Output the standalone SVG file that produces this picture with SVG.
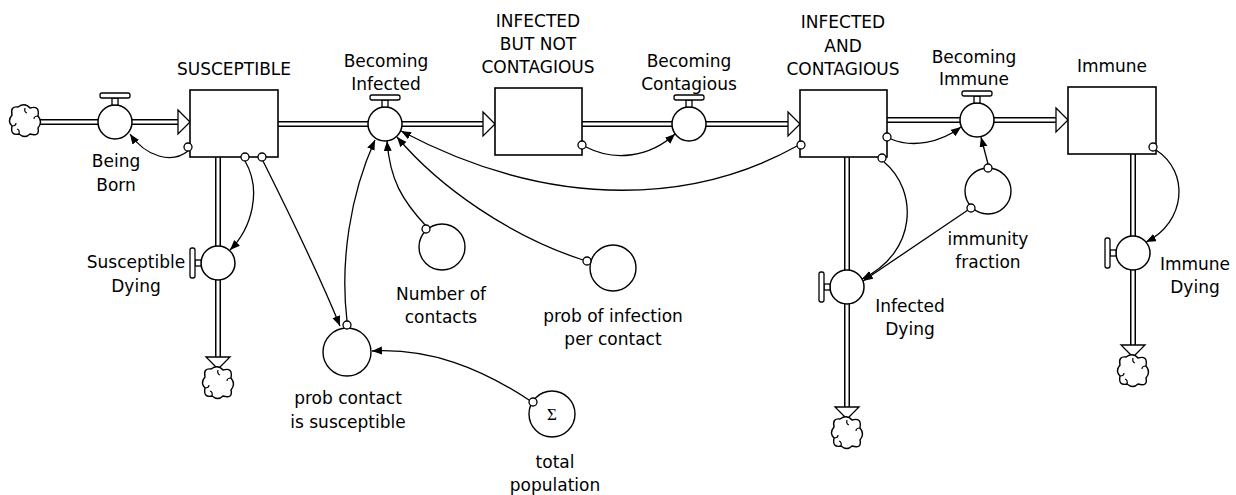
<svg xmlns="http://www.w3.org/2000/svg" width="1236" height="495" viewBox="0 0 1236 495">
<style>
  .po{fill:none;stroke:#000;stroke-width:6}
  .pi{fill:none;stroke:#fff;stroke-width:3}
  .tri{fill:#fff;stroke:#000;stroke-width:1.3}
  .box{fill:#fff;stroke:#000;stroke-width:1.6}
  .valve{fill:#fff;stroke:#000;stroke-width:1.5}
  .aux{fill:#fff;stroke:#000;stroke-width:1.4}
  .hdl{fill:#fff;stroke:#000;stroke-width:1.3}
  .cloud{fill:#fff;stroke:#000;stroke-width:1.4}
  .link{fill:none;stroke:#000;stroke-width:1.3;marker-end:url(#ah)}
  .dot{fill:#fff;stroke:#000;stroke-width:1.3}
  text{font-family:"DejaVu Sans","Liberation Sans",sans-serif;font-size:17px;text-anchor:middle;fill:#000}
</style>
<defs>
  <marker id="ah" markerUnits="userSpaceOnUse" markerWidth="11" markerHeight="9" refX="10" refY="4" orient="auto">
    <path d="M0,0 L10,4 L0,8 z" fill="#000"/>
  </marker>
  <g id="cl">
    <path class="cloud" d="M-7,-14 Q0,-19 5,-13 Q15,-16 13,-5 Q18,1 13,7 Q15,16 5,13 Q0,18 -6,13 Q-15,15 -13,5 Q-18,0 -13,-6 Q-15,-15 -7,-14 Z"/>
    <path d="M0,-13 q-1,4 2,5 M13,-5 q-4,0 -4,3 M-13,5 q4,0 4,-3 M-6,13 q1,-4 -2,-5" stroke="#000" stroke-width="1.2" fill="none"/>
  </g>
  <g id="vh">
    <circle class="valve" r="17"/>
    <rect class="hdl" x="-3" y="-24" width="6" height="7"/>
    <rect class="hdl" x="-15" y="-29" width="30" height="5" rx="2"/>
  </g>
  <g id="vv">
    <circle class="valve" r="17"/>
    <rect class="hdl" x="-23" y="-3" width="6" height="6"/>
    <rect class="hdl" x="-28" y="-15" width="5" height="30" rx="2"/>
  </g>
</defs>

<g id="pipes">
  <path class="po" d="M40,122 H98 M132,122 H180 M278,124 H368 M402,124 H485 M582,124 H672 M706,124 H790 M887,120 H960 M994,120 H1058 M218,157 V246 M218,280 V358 M847,157 V270 M847,304 V408 M1133,154 V236 M1133,270 V346"/>
  <path class="pi" d="M40,122 H98 M132,122 H180 M278,124 H368 M402,124 H485 M582,124 H672 M706,124 H790 M887,120 H960 M994,120 H1058 M218,157 V246 M218,280 V358 M847,157 V270 M847,304 V408 M1133,154 V236 M1133,270 V346"/>
  <polygon class="tri" points="178,110 190,122 178,134"/>
  <polygon class="tri" points="483,112 495,124 483,136"/>
  <polygon class="tri" points="788,112 800,124 788,136"/>
  <polygon class="tri" points="1056,108 1068,120 1056,132"/>
  <polygon class="tri" points="206,357 230,357 218,369"/>
  <polygon class="tri" points="835,407 859,407 847,419"/>
  <polygon class="tri" points="1121,345 1145,345 1133,357"/>
</g>

<g id="cloud-source"><use href="#cl" x="25" y="121"/></g>
<g id="cloud-susceptible-sink"><use href="#cl" x="218" y="383"/></g>
<g id="cloud-infected-sink"><use href="#cl" x="847" y="433"/></g>
<g id="cloud-immune-sink"><use href="#cl" x="1133" y="371"/></g>

<g id="susceptible">
  <rect class="box" x="190" y="90" width="88" height="67"/>
  <text x="234" y="75">SUSCEPTIBLE</text>
</g>
<g id="infected-not-contagious">
  <rect class="box" x="495" y="88" width="87" height="67"/>
  <text x="538" y="27">INFECTED</text>
  <text x="538" y="50">BUT NOT</text>
  <text x="538" y="73">CONTAGIOUS</text>
</g>
<g id="infected-contagious">
  <rect class="box" x="800" y="90" width="87" height="67"/>
  <text x="843" y="28">INFECTED</text>
  <text x="843" y="52">AND</text>
  <text x="843" y="75">CONTAGIOUS</text>
</g>
<g id="immune">
  <rect class="box" x="1068" y="87" width="88" height="67"/>
  <text x="1112" y="72">Immune</text>
</g>

<g id="being-born">
  <use href="#vh" x="115" y="122"/>
  <text x="116" y="167">Being</text>
  <text x="116" y="191">Born</text>
</g>
<g id="becoming-infected">
  <use href="#vh" x="385" y="124"/>
  <text x="386" y="67">Becoming</text>
  <text x="386" y="90">Infected</text>
</g>
<g id="becoming-contagious">
  <use href="#vh" x="689" y="124"/>
  <text x="689" y="67">Becoming</text>
  <text x="689" y="90">Contagious</text>
</g>
<g id="becoming-immune">
  <use href="#vh" x="977" y="120"/>
  <text x="974" y="63">Becoming</text>
  <text x="974" y="85">Immune</text>
</g>
<g id="susceptible-dying">
  <use href="#vv" x="218" y="263"/>
  <text x="136" y="268">Susceptible</text>
  <text x="136" y="292">Dying</text>
</g>
<g id="infected-dying">
  <use href="#vv" x="847" y="287"/>
  <text x="910" y="312">Infected</text>
  <text x="910" y="335">Dying</text>
</g>
<g id="immune-dying">
  <use href="#vv" x="1133" y="253"/>
  <text x="1195" y="270">Immune</text>
  <text x="1195" y="293">Dying</text>
</g>

<g id="number-of-contacts">
  <circle class="aux" cx="442" cy="247" r="23"/>
  <text x="441" y="300">Number of</text>
  <text x="441" y="323">contacts</text>
</g>
<g id="prob-of-infection">
  <circle class="aux" cx="613" cy="268" r="23"/>
  <text x="613" y="322">prob of infection</text>
  <text x="613" y="345">per contact</text>
</g>
<g id="prob-contact-susceptible">
  <circle class="aux" cx="347" cy="352" r="24"/>
  <text x="348" y="404">prob contact</text>
  <text x="348" y="428">is susceptible</text>
</g>
<g id="total-population">
  <circle class="aux" cx="552" cy="414" r="23"/>
  <text x="552" y="420" style="font-family:'Liberation Serif',serif;font-size:17px">Σ</text>
  <text x="555" y="468">total</text>
  <text x="555" y="491">population</text>
</g>
<g id="immunity-fraction">
  <circle class="aux" cx="988" cy="191" r="23"/>
  <text x="988" y="245">immunity</text>
  <text x="988" y="268">fraction</text>
</g>

<g id="connectors">
  <path class="link" d="M188,151 C172,164 146,157 130,134"/>
  <path class="link" d="M245,161 C262,190 252,228 230,250"/>
  <path class="link" d="M263,161 C290,215 318,272 340,326"/>
  <path class="link" d="M347,321 C340,262 350,195 375,140"/>
  <path class="link" d="M426,226 C402,200 390,180 387,141"/>
  <path class="link" d="M583,260 C510,236 440,188 397,137"/>
  <path class="link" d="M797,146 C700,200 560,215 401,131"/>
  <path class="link" d="M586,147 C615,162 650,157 675,134"/>
  <path class="link" d="M891,139 C912,148 940,143 961,127"/>
  <path class="link" d="M884,162 C918,190 918,252 862,279"/>
  <path class="link" d="M968,210 L863,281"/>
  <path class="link" d="M988,164 L981,137"/>
  <path class="link" d="M1156,150 C1190,172 1186,222 1146,242"/>
  <path class="link" d="M529,400 C480,368 430,348 372,351"/>
  <circle class="dot" cx="188" cy="147" r="4"/>
  <circle class="dot" cx="245" cy="157" r="4"/>
  <circle class="dot" cx="262" cy="157" r="4"/>
  <circle class="dot" cx="347" cy="325" r="4"/>
  <circle class="dot" cx="426" cy="229" r="4"/>
  <circle class="dot" cx="587" cy="261" r="4"/>
  <circle class="dot" cx="801" cy="145" r="4"/>
  <circle class="dot" cx="582" cy="145" r="4"/>
  <circle class="dot" cx="887" cy="137" r="4"/>
  <circle class="dot" cx="882" cy="158" r="4"/>
  <circle class="dot" cx="971" cy="208" r="4"/>
  <circle class="dot" cx="988" cy="168" r="4"/>
  <circle class="dot" cx="1153" cy="147" r="4"/>
  <circle class="dot" cx="533" cy="402" r="4"/>
</g>
</svg>
